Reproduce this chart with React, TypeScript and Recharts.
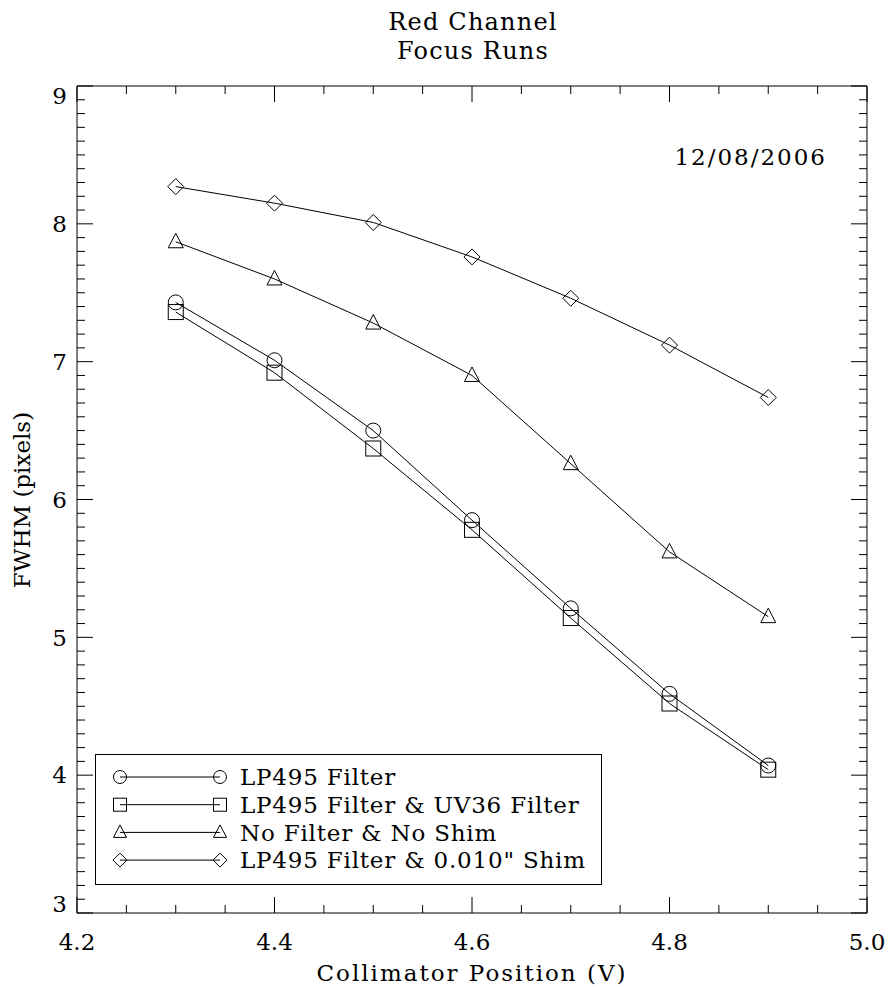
import React from "react"
import { LineChart, Line, XAxis, YAxis, Legend, Customized } from "recharts"

// collimator positions (V)
const positions = [4.3, 4.4, 4.5, 4.6, 4.7, 4.8, 4.9]

// FWHM in pixels, one array per run
const lp495 = [7.43, 7.01, 6.5, 5.85, 5.21, 4.59, 4.07]
const lp495Uv36 = [7.36, 6.92, 6.37, 5.78, 5.14, 4.52, 4.04]
const noFilterNoShim = [7.87, 7.6, 7.28, 6.9, 6.26, 5.62, 5.15]
const lp495Shim = [8.27, 8.15, 8.01, 7.76, 7.46, 7.12, 6.74]

const seriesKeys = ["lp495", "lp495Uv36", "noFilterNoShim", "lp495Shim"]
const seriesNames = [
  "LP495 Filter",
  "LP495 Filter & UV36 Filter",
  "No Filter & No Shim",
  "LP495 Filter & 0.010\" Shim",
]
const seriesSymbols = ["circle", "square", "triangle", "diamond"]

const xTicks = [4.2, 4.25, 4.3, 4.35, 4.4, 4.45, 4.5, 4.55, 4.6, 4.65, 4.7, 4.75, 4.8, 4.85, 4.9, 4.95, 5.0]
const xMajor = [4.2, 4.4, 4.6, 4.8, 5.0]
const yTicks: number[] = []
for (let i = 30; i <= 90; i++) yTicks.push(i / 10)

const data = positions.map((p, i) => ({
  x: p,
  lp495: lp495[i],
  lp495Uv36: lp495Uv36[i],
  noFilterNoShim: noFilterNoShim[i],
  lp495Shim: lp495Shim[i],
}))

const FONT = "'DejaVu Serif', serif"
const INK = "#000"

const isXMajor = (v: number) => xMajor.some((m) => Math.abs(m - v) < 1e-6)
const isYMajor = (v: number) => Math.abs(v - Math.round(v)) < 1e-6

function Marker({ kind, cx, cy, s = 7.5 }: { kind: string; cx: number; cy: number; s?: number }) {
  if (kind === "circle") return <circle cx={cx} cy={cy} r={s} fill="none" stroke={INK} strokeWidth={1} />
  if (kind === "square")
    return <rect x={cx - s} y={cy - s} width={2 * s} height={2 * s} fill="none" stroke={INK} strokeWidth={1} />
  if (kind === "triangle")
    return (
      <polygon
        points={`${cx},${cy - s - 1} ${cx - s},${cy + s - 1.5} ${cx + s},${cy + s - 1.5}`}
        fill="none"
        stroke={INK}
        strokeWidth={1}
      />
    )
  const d = s + 0.5
  return (
    <polygon
      points={`${cx},${cy - d} ${cx + d},${cy} ${cx},${cy + d} ${cx - d},${cy}`}
      fill="none"
      stroke={INK}
      strokeWidth={1}
    />
  )
}

const dotFor = (kind: string) => (props: any) => {
  const { cx, cy, index } = props
  if (cx == null || cy == null) return <g key={`d-${kind}-${index}`} />
  return <Marker key={`d-${kind}-${index}`} kind={kind} cx={cx} cy={cy} />
}

const BottomTick = (props: any) => {
  const { x, y, payload } = props
  const major = isXMajor(payload.value)
  return (
    <g>
      <line x1={x} x2={x} y1={y} y2={y - (major ? 16 : 8)} stroke={INK} strokeWidth={1} />
      {major && (
        <text x={x} y={y + 37} textAnchor="middle" fontFamily={FONT} fontSize={23} fill={INK}>
          {payload.value.toFixed(1)}
        </text>
      )}
    </g>
  )
}

const TopTick = (props: any) => {
  const { x, y, payload } = props
  const major = isXMajor(payload.value)
  return <line x1={x} x2={x} y1={y} y2={y + (major ? 16 : 8)} stroke={INK} strokeWidth={1} />
}

const LeftTick = (props: any) => {
  const { x, y, payload } = props
  const major = isYMajor(payload.value)
  const ly = Math.min(Math.max(y, 96), 904)
  return (
    <g>
      <line x1={x} x2={x + (major ? 16 : 8)} y1={y} y2={y} stroke={INK} strokeWidth={1} />
      {major && (
        <text x={x - 10} y={ly} dy="0.36em" textAnchor="end" fontFamily={FONT} fontSize={23} fill={INK}>
          {Math.round(payload.value)}
        </text>
      )}
    </g>
  )
}

const RightTick = (props: any) => {
  const { x, y, payload } = props
  const major = isYMajor(payload.value)
  return <line x1={x} x2={x - (major ? 16 : 8)} y1={y} y2={y} stroke={INK} strokeWidth={1} />
}

const LegendBox = () => (
  <svg width={507} height={131} style={{ display: "block" }}>
    <rect x={0.5} y={0.5} width={506} height={130} fill="#fff" stroke={INK} strokeWidth={1} />
    {seriesNames.map((name, i) => {
      const cy = 23 + i * 27.7
      return (
        <g key={name}>
          <line x1={25} x2={125} y1={cy} y2={cy} stroke={INK} strokeWidth={1} />
          <Marker kind={seriesSymbols[i]} cx={25} cy={cy} s={6.5} />
          <Marker kind={seriesSymbols[i]} cx={125} cy={cy} s={6.5} />
          <text x={145} y={cy} dy="0.36em" fontFamily={FONT} fontSize={23} letterSpacing={0.8} fill={INK}>
            {name}
          </text>
        </g>
      )
    })}
  </svg>
)

const Annotations = () => (
  <g fontFamily={FONT} fill={INK}>
    <text x={473} y={30} textAnchor="middle" fontSize={24} letterSpacing={1.2}>
      Red Channel
    </text>
    <text x={473} y={59} textAnchor="middle" fontSize={24} letterSpacing={1.2}>
      Focus Runs
    </text>
    <text x={827} y={165} textAnchor="end" fontSize={23} letterSpacing={2}>
      12/08/2006
    </text>
    <text x={472} y={981} textAnchor="middle" fontSize={23} letterSpacing={2}>
      Collimator Position (V)
    </text>
    <text x={30} y={500} textAnchor="middle" fontSize={23} transform="rotate(-90 30 500)">
      FWHM (pixels)
    </text>
  </g>
)

export default function App() {
  return (
    <div style={{ position: "absolute", left: 0, top: 0, width: 891, height: 987, background: "#fff" }}>
      <LineChart width={891} height={987} data={data} margin={{ top: 85, right: 23, bottom: 73, left: 76 }}>
        <XAxis
          dataKey="x"
          type="number"
          domain={[4.2, 5.0]}
          allowDataOverflow
          ticks={xTicks}
          interval={0}
          height={1}
          tickSize={0}
          tickMargin={0}
          tickLine={false}
          axisLine={{ stroke: INK }}
          tick={BottomTick}
        />
        <XAxis
          xAxisId="top"
          dataKey="x"
          orientation="top"
          type="number"
          domain={[4.2, 5.0]}
          allowDataOverflow
          ticks={xTicks}
          interval={0}
          height={1}
          tickSize={0}
          tickMargin={0}
          tickLine={false}
          axisLine={{ stroke: INK }}
          tick={TopTick}
        />
        <YAxis
          type="number"
          domain={[3, 9]}
          allowDataOverflow
          ticks={yTicks}
          interval={0}
          width={1}
          tickSize={0}
          tickMargin={0}
          tickLine={false}
          axisLine={{ stroke: INK }}
          tick={LeftTick}
        />
        <YAxis
          yAxisId="right"
          orientation="right"
          type="number"
          domain={[3, 9]}
          allowDataOverflow
          ticks={yTicks}
          interval={0}
          width={1}
          tickSize={0}
          tickMargin={0}
          tickLine={false}
          axisLine={{ stroke: INK }}
          tick={RightTick}
        />
        {seriesKeys.map((k, i) => (
          <Line
            key={k}
            dataKey={k}
            name={seriesNames[i]}
            stroke={INK}
            strokeWidth={1}
            dot={dotFor(seriesSymbols[i])}
            activeDot={false}
            isAnimationActive={false}
          />
        ))}
        <Legend
          layout="horizontal"
          verticalAlign="middle"
          align="center"
          content={LegendBox}
          wrapperStyle={{ left: 95, top: 754, width: 507, height: 131 }}
        />
        <Customized component={Annotations} />
      </LineChart>
    </div>
  )
}
